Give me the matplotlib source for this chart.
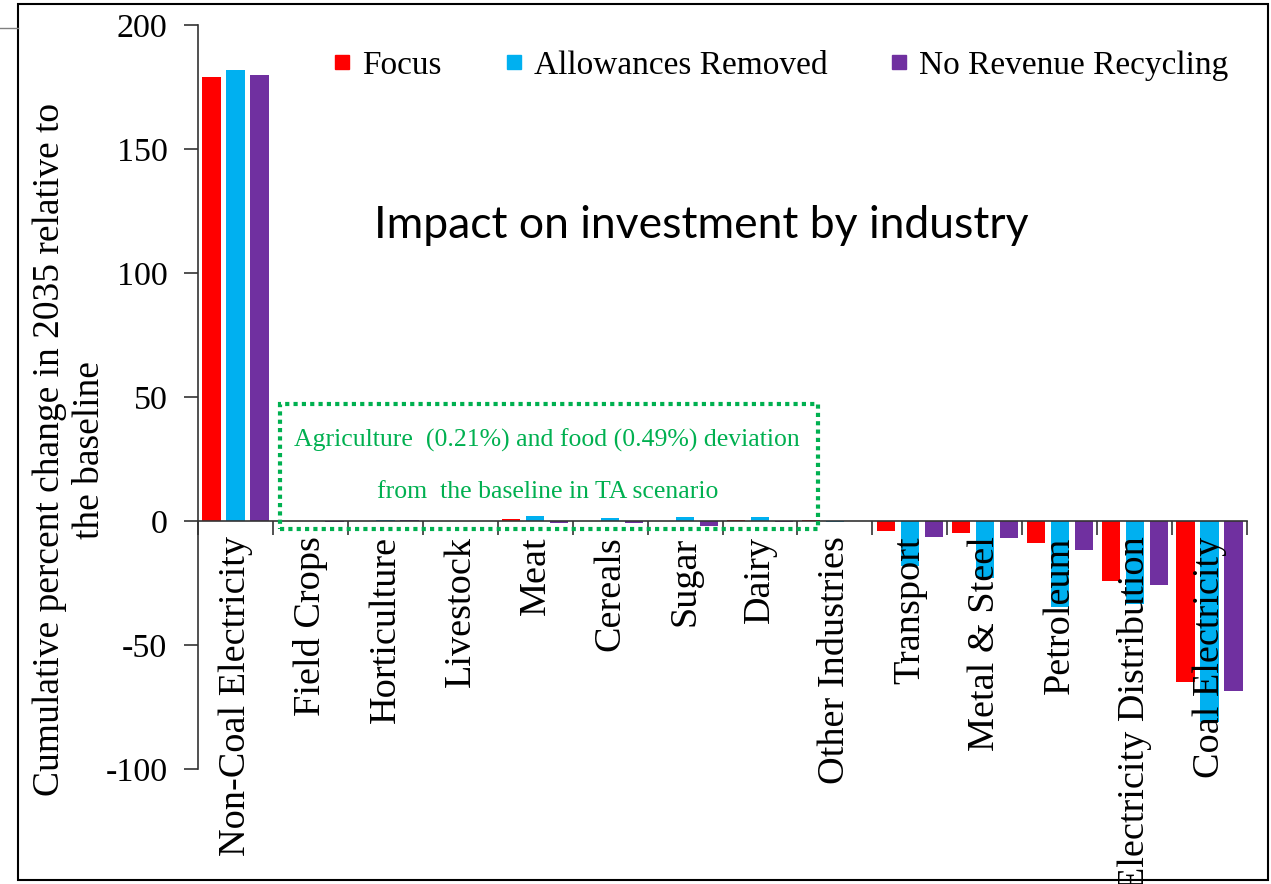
# Cumulative change in investment by industry under three policy scenarios
import matplotlib.pyplot as plt
import numpy as np
from matplotlib.lines import Line2D
from matplotlib.patches import Rectangle

# Data
industries = ["Non-Coal Electricity", "Field Crops", "Horticulture", "Livestock",
              "Meat", "Cereals", "Sugar", "Dairy", "Other Industries", "Transport",
              "Metal & Steel", "Petroleum", "Electricity Distribution", "Coal Electricity"]
focus = [179, 0.0, 0.0, 0.0, 1.0, 0.0, 0.0, 0.5, 0.3, -4.0, -4.7, -8.8, -24.0, -65.0]
allowances_removed = [182, 0.2, 0.3, 0.0, 2.0, 1.2, 1.5, 1.7, -0.4, -18.0, -23.0, -34.5, -33.5, -81.0]
no_recycling = [180, -0.5, 0.3, 0.0, -0.8, -0.8, -1.8, -0.3, 0.0, -6.5, -7.0, -11.8, -25.7, -68.4]

series_names = ["Focus", "Allowances Removed", "No Revenue Recycling"]
series_colors = ["#FF0000", "#00B0F0", "#7030A0"]

plt.rcParams['font.family'] = ['Liberation Serif', 'DejaVu Serif']
plt.rcParams['axes.unicode_minus'] = False

fig = plt.figure(figsize=(12.71, 8.84), dpi=100)
ax = fig.add_axes([0.1558, 0.130, 0.8254, 0.8417])

x = np.arange(len(industries))
w = 0.245
for offset, vals, col in zip([-0.32, 0, 0.32],
                             [focus, allowances_removed, no_recycling],
                             series_colors):
    ax.bar(x + offset, vals, w, color=col, zorder=1)

ax.set_xlim(-0.5, len(industries) - 0.5)
ax.set_ylim(-100, 200)
ax.set_yticks(range(-100, 201, 50))

# axis styling: x axis sits on zero, no top/right spines
ax.spines['top'].set_visible(False)
ax.spines['right'].set_visible(False)
ax.spines['bottom'].set_position(('data', 0))
for s in ['left', 'bottom']:
    ax.spines[s].set_color('#333333')
    ax.spines[s].set_linewidth(1.2)

ax.set_xticks(x)
ax.set_xticklabels(industries, rotation=90, fontsize=27.5)
ax.tick_params(axis='x', which='major', length=0, pad=11)
ax.set_xticks(np.arange(-0.5, len(industries)), minor=True)
ax.tick_params(axis='x', which='minor', length=10, width=1.2, color='#333333')
ax.tick_params(axis='y', length=10, width=1.2, color='#333333', labelsize=24.5, pad=12)

# y label
fig.text(0.055, 0.491, "Cumulative percent change in 2035 relative to\nthe baseline",
         rotation=90, ha='center', va='center', fontsize=27, multialignment='center')

# legend with small square markers
handles = [Line2D([], [], marker='s', linestyle='none', color=c, markersize=10)
           for c in series_colors]
ax.legend(handles, series_names, ncol=3, frameon=False, fontsize=24,
          loc='center', bbox_to_anchor=(0.6145, 0.926), bbox_transform=fig.transFigure,
          handlelength=0.5, handletextpad=0.35, columnspacing=1.9)

# title inside the plot
fig.text(0.552, 0.745, "Impact on investment by industry", family='Lato',
         fontsize=32, ha='center', va='center')

# dotted box around the agriculture and food group
green = "#00B050"
box = Rectangle((0.59, -3.2), 7.19, 50.4, fill=False, edgecolor=green,
                linewidth=3, linestyle=(0, (1, 1)), clip_on=False, zorder=3)
ax.add_patch(box)
ax.text(4.16, 32.7, "Agriculture  (0.21%) and food (0.49%) deviation",
        color=green, fontsize=18.5, ha='center', va='center')
ax.text(4.16, 11.7, "from  the baseline in TA scenario",
        color=green, fontsize=18.5, ha='center', va='center')

# outer frame
fig.add_artist(Rectangle((0.0142, 0.0045), 0.9834, 0.991, transform=fig.transFigure,
                         fill=False, edgecolor='black', linewidth=1.5))
fig.add_artist(Line2D([0, 0.0142], [1 - 28 / 884] * 2, transform=fig.transFigure,
                      color='gray', linewidth=1))

fig.savefig("out.png", dpi=100)
